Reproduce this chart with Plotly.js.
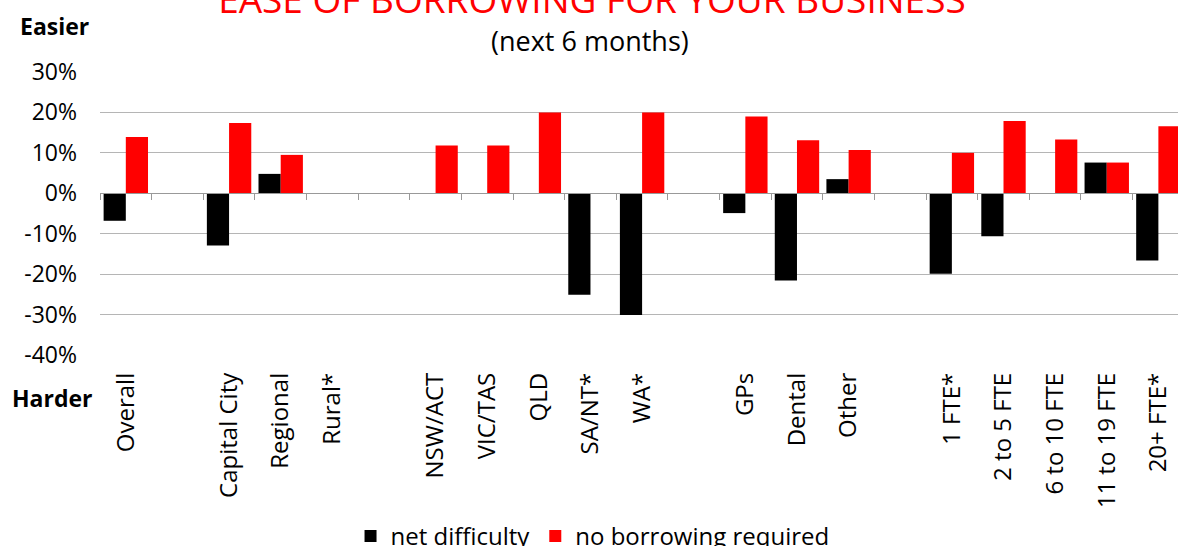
<!DOCTYPE html>
<html>
<head>
<meta charset="utf-8">
<script src="https://cdn.plot.ly/plotly-3.0.1.min.js"></script>
<style>html,body{margin:0;padding:0;background:#fff;}#chart{width:1178px;height:546px;}</style>
</head>
<body>
<div id="chart"></div>
<script>
// Categories (empty strings are spacer slots between groups)
const categories = ["Overall", "", "Capital City", "Regional", "Rural*", "", "NSW/ACT", "VIC/TAS", "QLD", "SA/NT*", "WA*", "", "GPs", "Dental", "Other", "", "1 FTE*", "2 to 5 FTE", "6 to 10 FTE", "11 to 19 FTE", "20+ FTE*"];
// Series values (%), null = no bar
const netDifficulty = [-6.8, null, -12.9, 4.8, null, null, null, null, null, -25.1, -30.1, null, -4.9, -21.6, 3.5, null, -19.9, -10.6, null, 7.6, -16.6];
const noBorrowingRequired = [13.9, null, 17.4, 9.5, null, null, 11.8, 11.8, 20.0, null, 20.0, null, 19.0, 13.1, 10.7, null, 10.0, 17.9, 13.3, 7.6, 16.6];
const seriesNames = ["net difficulty", "no borrowing required"];
const yTicks = [-40, -30, -20, -10, 0, 10, 20, 30];
const yTickLabels = ["-40%", "-30%", "-20%", "-10%", "0%", "10%", "20%", "30%"];

const idx = categories.map((c, i) => i);
const boundaries = categories.map((c, i) => i - 0.5);
const FONT = "Open Sans, Noto Sans, sans-serif";
const yMin = -40, yMax = 30;
const xRange = [-0.5, 20.38];

const traces = [
  {type: "bar", name: seriesNames[0], x: idx, y: netDifficulty, marker: {color: "#000000"}, hoverinfo: "skip"},
  {type: "bar", name: seriesNames[1], x: idx, y: noBorrowingRequired, marker: {color: "#ff0000"}, hoverinfo: "skip"}
];

const layout = {
  width: 1178, height: 546,
  margin: {l: 100, r: 0, t: 72, b: 191},
  paper_bgcolor: "#ffffff", plot_bgcolor: "#ffffff",
  font: {family: FONT, color: "#000000"},
  barmode: "group", bargap: 0.14, bargroupgap: 0,
  showlegend: true,
  legend: {orientation: "h", xref: "container", x: 0.503, xanchor: "center", yref: "container", y: (546 - 514) / 546, yanchor: "top", font: {size: 24, family: FONT}, traceorder: "normal"},
  title: {text: "EASE OF BORROWING FOR YOUR BUSINESS", xref: "container", x: 0.5025, xanchor: "center", yref: "container", y: 1, yanchor: "middle", font: {size: 37, color: "#ff0000", family: FONT}},
  xaxis: {
    range: xRange, tickmode: "array", tickvals: idx, ticktext: categories,
    tickangle: -90, ticks: "", showgrid: false, zeroline: false, showline: false,
    tickfont: {size: 24, family: FONT}, ticklabelstandoff: 12, fixedrange: true
  },
  xaxis2: {
    overlaying: "x", anchor: "free", position: (0 - yMin) / (yMax - yMin), side: "bottom",
    range: xRange, tickmode: "array", tickvals: boundaries, ticks: "outside", ticklen: 6, tickwidth: 1, tickcolor: "#999999",
    showticklabels: false, showgrid: false, zeroline: false, showline: true, linecolor: "#999999", linewidth: 1
  },
  yaxis: {
    range: [yMin, yMax], tickmode: "array", tickvals: yTicks, ticktext: yTickLabels,
    showgrid: true, gridcolor: "#b5b5b5", gridwidth: 1, zeroline: false, showline: false, ticks: "",
    tickfont: {size: 23, family: FONT}, ticklabelstandoff: 22, fixedrange: true
  },
  annotations: [
    {text: "(next 6 months)", xref: "paper", yref: "paper", x: (590 - 100) / 1078, y: (355 - 40) / 283, xanchor: "center", yanchor: "middle", showarrow: false, font: {size: 27, family: FONT, color: "#000000"}},
    {text: "<b>Easier</b>", xref: "paper", yref: "paper", x: (54 - 100) / 1078, y: (355 - 26) / 283, xanchor: "center", yanchor: "middle", showarrow: false, font: {size: 23, family: FONT, color: "#000000"}},
    {text: "<b>Harder</b>", xref: "paper", yref: "paper", x: (52.5 - 100) / 1078, y: (355 - 398) / 283, xanchor: "center", yanchor: "middle", showarrow: false, font: {size: 23, family: FONT, color: "#000000"}}
  ]
};

// invisible trace so the overlaying zero-line axis is drawn
traces.push({type: "scatter", x: [], y: [], xaxis: "x2", yaxis: "y", showlegend: false, hoverinfo: "skip"});

Plotly.newPlot("chart", traces, layout, {displayModeBar: false, staticPlot: true});
</script>
</body>
</html>
